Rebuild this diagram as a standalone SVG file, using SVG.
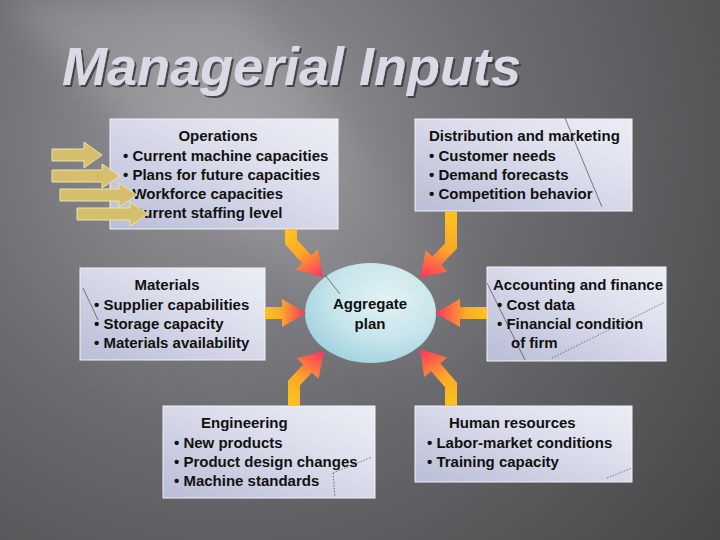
<svg xmlns="http://www.w3.org/2000/svg" width="720" height="540" viewBox="0 0 720 540">
<defs>
<radialGradient id="bg" cx="230" cy="140" r="640" gradientUnits="userSpaceOnUse">
<stop offset="0" stop-color="#97979b"/>
<stop offset="0.45" stop-color="#6c6c70"/>
<stop offset="1" stop-color="#454547"/>
</radialGradient>
<linearGradient id="beam" x1="0" y1="0" x2="1" y2="1">
<stop offset="0" stop-color="#ffffff" stop-opacity="0.18"/>
<stop offset="1" stop-color="#ffffff" stop-opacity="0"/>
</linearGradient>
<filter id="blur" x="-20%" y="-20%" width="140%" height="140%"><feGaussianBlur stdDeviation="18"/></filter>
<filter id="tsh" x="-5%" y="-20%" width="110%" height="140%"><feDropShadow dx="2" dy="2" stdDeviation="0.6" flood-color="#3a3a3e" flood-opacity="0.85"/></filter>
<linearGradient id="box" x1="0" y1="1" x2="1" y2="0">
<stop offset="0" stop-color="#b9bdd6"/>
<stop offset="0.6" stop-color="#dcdeec"/>
<stop offset="1" stop-color="#eceef5"/>
</linearGradient>
<radialGradient id="ell" cx="0.62" cy="0.35" r="0.7">
<stop offset="0" stop-color="#e2f2f3"/>
<stop offset="0.6" stop-color="#c6e5ea"/>
<stop offset="1" stop-color="#a2d2df"/>
</radialGradient>
<linearGradient id="gTL" gradientUnits="userSpaceOnUse" x1="291" y1="229" x2="323" y2="277"><stop offset="0" stop-color="#fcc41c"/><stop offset="0.45" stop-color="#fca62a"/><stop offset="1" stop-color="#ff2f62"/></linearGradient>
<linearGradient id="gTR" gradientUnits="userSpaceOnUse" x1="451" y1="211" x2="420" y2="278"><stop offset="0" stop-color="#fcc41c"/><stop offset="0.5" stop-color="#fca62a"/><stop offset="1" stop-color="#ff2f62"/></linearGradient>
<linearGradient id="gL" gradientUnits="userSpaceOnUse" x1="265" y1="0" x2="306" y2="0"><stop offset="0" stop-color="#fcc41c"/><stop offset="0.4" stop-color="#fcaa2a"/><stop offset="1" stop-color="#ff2f62"/></linearGradient>
<linearGradient id="gR" gradientUnits="userSpaceOnUse" x1="487" y1="0" x2="435" y2="0"><stop offset="0" stop-color="#fcc41c"/><stop offset="0.4" stop-color="#fcaa2a"/><stop offset="1" stop-color="#ff2f62"/></linearGradient>
<linearGradient id="gBL" gradientUnits="userSpaceOnUse" x1="294" y1="406" x2="324" y2="351"><stop offset="0" stop-color="#fcc41c"/><stop offset="0.45" stop-color="#fca62a"/><stop offset="1" stop-color="#ff2f62"/></linearGradient>
<linearGradient id="gBR" gradientUnits="userSpaceOnUse" x1="451" y1="406" x2="420" y2="349"><stop offset="0" stop-color="#fcc41c"/><stop offset="0.45" stop-color="#fca62a"/><stop offset="1" stop-color="#ff2f62"/></linearGradient>
</defs>
<style>
.box{fill:url(#box);stroke:#f2f2f8;stroke-width:1}
.t{font-family:"Liberation Sans",Arial,sans-serif;font-weight:bold;font-size:15px;fill:#111111}
.c{text-anchor:middle}
.title{font-family:"Liberation Sans",Arial,sans-serif;font-weight:bold;font-style:italic;font-size:54px}
.ya{fill:#d6bf6c;stroke:#ece2b0;stroke-width:1}
.art{stroke:#333333;stroke-width:0.8;fill:none;opacity:0.75}
.dot{stroke:#333333;stroke-width:0.8;fill:none;stroke-dasharray:1.5 1.5;opacity:0.75}
</style>
<rect width="720" height="540" fill="url(#bg)"/>
<polygon points="0,0 240,0 520,340 430,410" fill="url(#beam)" filter="url(#blur)"/>
<g id="title">
<text class="title" x="62" y="85" fill="#dadae6" filter="url(#tsh)">Managerial Inputs</text>
</g>
<g id="operations">
<rect class="box" x="110" y="119" width="228" height="110"/>
<text class="t c" x="218" y="141">Operations</text>
<text class="t" x="123" y="161">• Current machine capacities</text>
<text class="t" x="123" y="180">• Plans for future capacities</text>
<text class="t" x="123" y="199">• Workforce capacities</text>
<text class="t" x="123" y="218">• Current staffing level</text>
</g>
<g id="distribution">
<rect class="box" x="415" y="119" width="217" height="92"/>
<text class="t" x="429" y="141">Distribution and marketing</text>
<text class="t" x="429" y="161">• Customer needs</text>
<text class="t" x="429" y="180">• Demand forecasts</text>
<text class="t" x="429" y="199">• Competition behavior</text>
</g>
<g id="materials">
<rect class="box" x="80" y="268" width="185" height="92"/>
<text class="t c" x="167" y="290">Materials</text>
<text class="t" x="94" y="310">• Supplier capabilities</text>
<text class="t" x="94" y="329">• Storage capacity</text>
<text class="t" x="94" y="348">• Materials availability</text>
</g>
<g id="accounting">
<rect class="box" x="487" y="267" width="179" height="94"/>
<text class="t" x="493" y="290">Accounting and finance</text>
<text class="t" x="497" y="310">• Cost data</text>
<text class="t" x="497" y="329">• Financial condition</text>
<text class="t" x="511" y="348">of firm</text>
</g>
<g id="engineering">
<rect class="box" x="163" y="406" width="212" height="92"/>
<text class="t" x="201" y="428">Engineering</text>
<text class="t" x="174" y="448">• New products</text>
<text class="t" x="174" y="467">• Product design changes</text>
<text class="t" x="174" y="486">• Machine standards</text>
</g>
<g id="human-resources">
<rect class="box" x="415" y="406" width="217" height="76"/>
<text class="t" x="449" y="428">Human resources</text>
<text class="t" x="427" y="448">• Labor-market conditions</text>
<text class="t" x="427" y="467">• Training capacity</text>
</g>
<g id="aggregate-plan">
<ellipse cx="370.5" cy="313" rx="65.5" ry="50" fill="url(#ell)"/>
<text class="t c" x="370" y="309">Aggregate</text>
<text class="t c" x="370" y="329">plan</text>
</g>
<g id="connectors">
<path d="M291,229 L291,242 L308,260.6" fill="none" stroke="url(#gTL)" stroke-width="12" stroke-linejoin="miter"/>
<polygon points="295.7,269.4 323,277 317.9,249.2" fill="url(#gTL)"/>
<path d="M451,211 L451,246 L435.3,262.2" fill="none" stroke="url(#gTR)" stroke-width="12"/>
<polygon points="425.9,250.4 420,278 447.5,271.2" fill="url(#gTR)"/>
<path d="M265,313 L284,313" fill="none" stroke="url(#gL)" stroke-width="12"/>
<polygon points="282,299 306,313 282,327" fill="url(#gL)"/>
<path d="M487,313 L458,313" fill="none" stroke="url(#gR)" stroke-width="12"/>
<polygon points="460,299 435,313 460,327" fill="url(#gR)"/>
<path d="M294,406 L294,383 L309,367" fill="none" stroke="url(#gBL)" stroke-width="12"/>
<polygon points="318.5,378.8 324,351 296.7,358.2" fill="url(#gBL)"/>
<path d="M451,406 L451,385 L434.4,365.7" fill="none" stroke="url(#gBR)" stroke-width="12"/>
<polygon points="447.1,357.4 420,349 424.3,377" fill="url(#gBR)"/>
</g>
<g id="side-arrows">
<polygon class="ya" points="52,149 84,149 84,142 102,155 84,168 84,161 52,161"/>
<polygon class="ya" points="52,170 102,170 102,164 120,176 102,188 102,182 52,182"/>
<polygon class="ya" points="60,189 119,189 119,183 137,195 119,207 119,201 60,201"/>
<polygon class="ya" points="77,208 130,208 130,202 148,214 130,226 130,220 77,220"/>
</g>
<g id="artifacts">
<line class="art" x1="565" y1="118" x2="602" y2="207"/>
<line class="art" x1="325" y1="275" x2="340" y2="294"/>
<line class="art" x1="487" y1="283" x2="525" y2="360"/>
<line class="dot" x1="552" y1="358" x2="665" y2="302"/>
<line class="dot" x1="333" y1="473" x2="372" y2="457"/>
<line class="dot" x1="333" y1="473" x2="335" y2="497"/>
<line class="dot" x1="607" y1="478" x2="632" y2="468"/>
<line class="art" x1="83" y1="288" x2="98" y2="320" opacity="0.3"/>
</g>
</svg>
